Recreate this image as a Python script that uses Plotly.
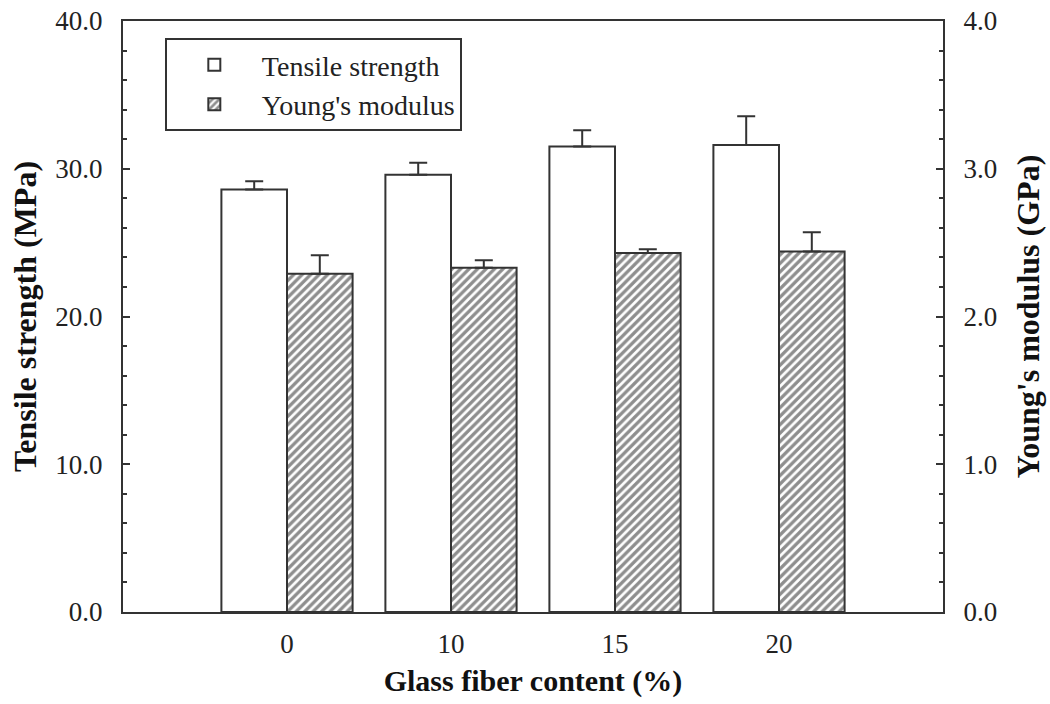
import plotly.graph_objects as go

categories = ["0", "10", "15", "20"]
tensile = [28.6, 29.6, 31.5, 31.6]
tensile_err = [0.55, 0.8, 1.1, 1.95]
modulus = [2.29, 2.33, 2.43, 2.44]
modulus_err = [0.125, 0.05, 0.025, 0.13]

font_family = "Liberation Serif, Times New Roman, serif"
dark = "#333333"

fig = go.Figure()
fig.add_trace(go.Bar(
    x=categories, y=tensile, name="Tensile strength",
    marker=dict(color="white", line=dict(color=dark, width=2)),
    width=0.4, offset=-0.4,
    error_y=dict(type="data", symmetric=False, array=tensile_err,
                 arrayminus=[0] * len(tensile_err), color=dark, thickness=2, width=9),
    yaxis="y",
))
fig.add_trace(go.Bar(
    x=categories, y=modulus, name="Young's modulus",
    marker=dict(color="white", line=dict(color=dark, width=2),
                pattern=dict(shape="/", fgcolor="#1e1e1e", bgcolor="white",
                             size=6, solidity=0.55)),
    width=0.4, offset=0.0,
    error_y=dict(type="data", symmetric=False, array=modulus_err,
                 arrayminus=[0] * len(modulus_err), color=dark, thickness=2, width=9),
    yaxis="y2",
))

tick_font = dict(family=font_family, size=27, color="#222222")
ytitle_font = dict(family=font_family, size=32, color="#111111")
xtitle_font = dict(family=font_family, size=30, color="#111111")

fig.update_layout(
    width=1050, height=704,
    margin=dict(l=123, r=107, t=21, b=92),
    paper_bgcolor="white", plot_bgcolor="white",
    barmode="overlay",
    font=dict(family=font_family, color="#222222"),
    xaxis=dict(
        type="category", range=[-1, 4], automargin=False,
        showline=True, linecolor=dark, linewidth=2, mirror=True,
        ticks="", showgrid=False, tickfont=tick_font, ticklabelstandoff=7,
        title=dict(text="<b>Glass fiber content (%)</b>", font=xtitle_font, standoff=12),
    ),
    yaxis=dict(
        range=[0, 40], tickvals=[0, 10, 20, 30, 40], tickformat=".1f", automargin=False,
        showline=True, linecolor=dark, linewidth=2,
        ticks="inside", ticklen=7, tickwidth=2, tickcolor=dark,
        minor=dict(ticks="inside", ticklen=4, tickwidth=1.5, tickcolor=dark, dtick=2),
        showgrid=False, zeroline=False, tickfont=tick_font, ticklabelstandoff=13,
        title=dict(text="<b>Tensile strength (MPa)</b>", font=ytitle_font, standoff=9),
    ),
    yaxis2=dict(
        range=[0, 4], tickvals=[0, 1, 2, 3, 4], tickformat=".1f", automargin=False,
        overlaying="y", side="right",
        showline=True, linecolor=dark, linewidth=2,
        ticks="inside", ticklen=7, tickwidth=2, tickcolor=dark,
        minor=dict(ticks="inside", ticklen=4, tickwidth=1.5, tickcolor=dark, dtick=0.2),
        showgrid=False, zeroline=False, tickfont=tick_font, ticklabelstandoff=13,
        title=dict(text="<b>Young's modulus (GPa)</b>", font=ytitle_font, standoff=20),
    ),
    legend=dict(
        x=0.051, y=0.971, xanchor="left", yanchor="top",
        bgcolor="white", bordercolor=dark, borderwidth=2,
        font=dict(family=font_family, size=28, color="#222222"),
        itemwidth=85, tracegroupgap=0,
    ),
    showlegend=True,
)

fig.write_html("out.html")
